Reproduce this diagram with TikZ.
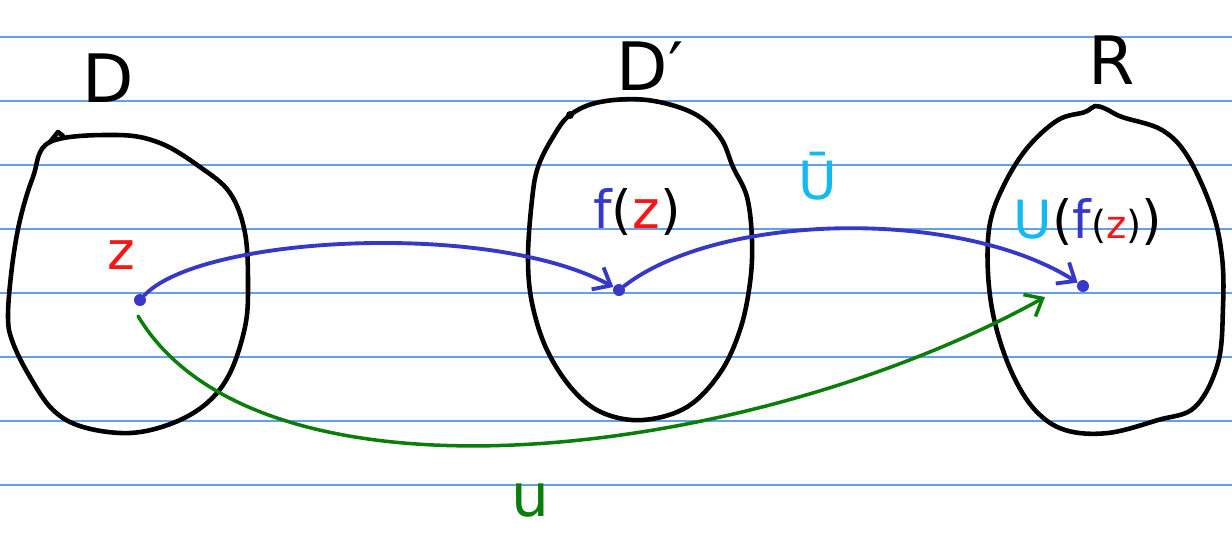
\documentclass[tikz,border=0pt]{standalone}
\usepackage{fontspec}
\setmainfont{DejaVu Sans}
\usetikzlibrary{arrows.meta}

\definecolor{ruleblue}{RGB}{100,160,230}
\definecolor{penblue}{RGB}{55,55,200}
\definecolor{pencyan}{RGB}{20,185,240}
\definecolor{pengreen}{RGB}{10,125,10}
\definecolor{penred}{RGB}{250,20,20}

\begin{document}
\begin{tikzpicture}[
    x=0.02cm, y=-0.02cm,
    every node/.style={inner sep=0pt},
    rule/.style={ruleblue, line width=0.7pt},
    blob/.style={black, line width=2.6pt, line join=round, line cap=round},
    mapto/.style={line width=2.2pt, line cap=round, -{Straight Barb[length=3mm, width=5mm]}},
    dot/.style={circle, fill=penblue, minimum size=0.24cm},
    big/.style={font=\fontsize{38}{44}\selectfont},
    mid/.style={font=\fontsize{30}{36}\selectfont}
]
\useasboundingbox (0,0) rectangle (1232,532);

% ruled paper
\foreach \y in {37,101,...,485}
    \draw[rule] (0,\y) -- (1232,\y);

% the three sets
\draw[blob] plot[smooth cycle, tension=0.6] coordinates {
    (50,142) (117,135) (160,143) (200,167) (230,193) (245,233) (248,287)
    (245,327) (230,373) (207,403) (173,423) (130,433) (83,427) (53,410)
    (30,377) (13,343) (8,317) (12,267) (20,220) (33,177)};
\draw[blob] (50,142) -- (58,132) -- (63,136);
\draw[blob] plot[smooth cycle, tension=0.6] coordinates {
    (570,115) (600,102) (647,100) (693,113) (720,137) (733,167) (747,197)
    (752,240) (750,283) (740,330) (720,373) (687,407) (643,420) (603,413)
    (573,390) (547,350) (532,303) (528,257) (532,200) (538,167) (553,137)};
\fill (570,115) circle (4);
\draw[blob] plot[smooth cycle, tension=0.6] coordinates {
    (1085,112) (1058,120) (1028,147) (1005,183) (990,223) (988,273) (995,323)
    (1012,373) (1035,410) (1065,430) (1108,433) (1158,420) (1195,407)
    (1218,363) (1223,307) (1222,257) (1212,210) (1188,157) (1162,130)
    (1122,117) (1106,109) (1095,106)};

% set names
\node[big] (dlab) at (108,78) {D};
\node[big] (dprimelab) at (650,66) {D′};
\node[big] (rlab) at (1112,60) {R};

% points
\node[dot] (z) at (140,300) {};
\node[dot] (fz) at (619,290) {};
\node[dot] (ufz) at (1083,286) {};
\coordinate (zlow) at (138,316);
\coordinate (uend) at (1045,297);

\node[mid, text=penred] (zlab) at (121,255) {z};
\node[mid] (fzlab) at (637,212) {\textcolor{penblue}{f}(\textcolor{penred}{z})};
\node[mid] (ufzlab) at (1088,222) {\textcolor{pencyan}{U}(\textcolor{penblue}{f}{\fontsize{22}{26}\selectfont(\textcolor{penred}{z})})};

% maps
\draw[mapto, penblue] (z) .. controls (200,236) and (490,220) .. (fz);
\draw[mapto, penblue] (fz) .. controls (720,212) and (960,208) .. (ufz);
\draw[mapto, pengreen, line width=2pt] (zlow) .. controls (260,520) and (750,460) .. (uend);

\node[mid, text=pencyan] (ubarlab) at (818,176) {Ū};
\node[text=pengreen, font=\fontsize{34}{40}\selectfont] (ulab) at (530,500) {u};
\end{tikzpicture}
\end{document}
